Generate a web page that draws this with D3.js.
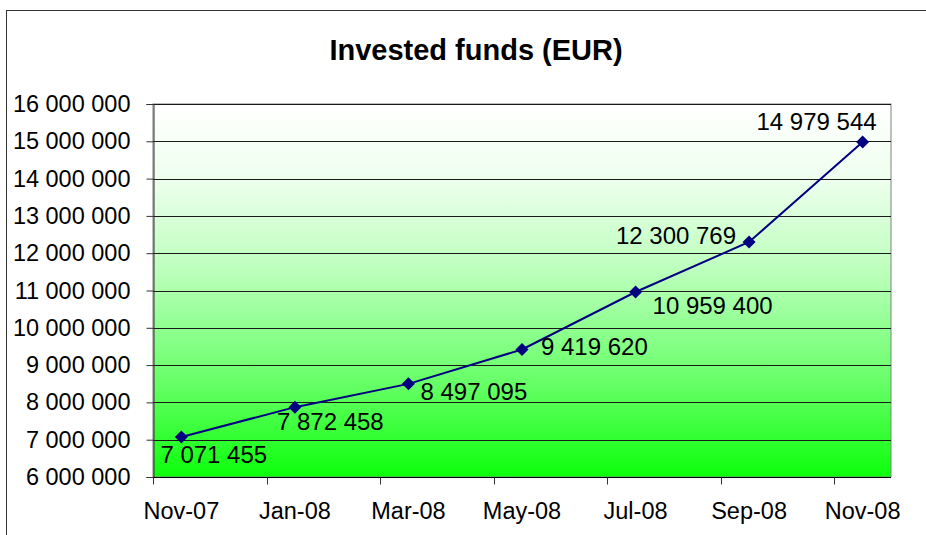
<!DOCTYPE html>
<html>
<head>
<meta charset="utf-8">
<script src="https://cdn.jsdelivr.net/npm/d3@7"></script>
<style>
  body { margin: 0; background: #fff; }
  text { font-family: "Liberation Sans", Arial, sans-serif; fill: #000; }
</style>
</head>
<body>
<div id="chart"></div>
<script>
// months on the date axis (Excel date axis, base unit = month)
const months = ["Nov-07", "Dec-07", "Jan-08", "Feb-08", "Mar-08", "Apr-08", "May-08",
                "Jun-08", "Jul-08", "Aug-08", "Sep-08", "Oct-08", "Nov-08"];
const categories = ["Nov-07", "Jan-08", "Mar-08", "May-08", "Jul-08", "Sep-08", "Nov-08"];
const invested = [7071455, 7872458, 8497095, 9419620, 10959400, 12300769, 14979544];
const yTicks = [6000000, 7000000, 8000000, 9000000, 10000000, 11000000, 12000000,
                13000000, 14000000, 15000000, 16000000];

const W = 926, H = 535;
const plot = { left: 153, right: 891, top: 104, bottom: 477 };

const locale = d3.formatLocale({ decimal: ".", thousands: " ", grouping: [3], currency: ["", ""] });
const fmt = locale.format(",d");

const svg = d3.select("#chart").append("svg")
    .attr("width", W)
    .attr("height", H);

// gradient for plot area: white at top, bright green at bottom
const grad = svg.append("defs").append("linearGradient")
    .attr("id", "bg")
    .attr("x1", 0).attr("y1", 0).attr("x2", 0).attr("y2", 1);
[[0, "#ffffff"], [0.2, "#eeffee"], [0.45, "#bbffbb"], [0.75, "#66ff66"], [1, "#0cff0c"]]
  .forEach(s => grad.append("stop").attr("offset", s[0]).attr("stop-color", s[1]));

// chart border (runs off right and bottom edges)
svg.append("rect")
    .attr("x", 6.5).attr("y", 10.5)
    .attr("width", W + 20).attr("height", H + 20)
    .attr("fill", "none")
    .attr("stroke", "#333")
    .attr("stroke-width", 1);

let x = d3.scaleBand()
    .domain(months)
    .range([plot.left, plot.right])
    .padding(0);

let y = d3.scaleLinear()
    .domain([6000000, 16000000])
    .range([plot.bottom, plot.top]);

svg.append("rect")
    .attr("x", plot.left).attr("y", plot.top)
    .attr("width", plot.right - plot.left)
    .attr("height", plot.bottom - plot.top)
    .attr("fill", "url(#bg)")
    .attr("stroke", "#808080");

// gridlines
svg.append("g")
  .selectAll("line")
  .data(yTicks)
  .join("line")
    .attr("x1", plot.left).attr("x2", plot.right)
    .attr("y1", d => Math.round(y(d)) + 0.5)
    .attr("y2", d => Math.round(y(d)) + 0.5)
    .attr("stroke", "#1a1a1a")
    .attr("stroke-width", 1);

// y axis
let yAxis = svg.append("g")
    .attr("transform", `translate(${plot.left + 0.5},0)`)
    .call(d3.axisLeft(y).tickValues(yTicks).tickFormat(fmt).tickSize(7).tickPadding(16));
yAxis.select(".domain").attr("stroke", "#333");
yAxis.selectAll(".tick line").attr("stroke", "#333");
yAxis.selectAll("text")
    .attr("font-size", 23.5)
    .attr("font-family", "'Liberation Sans', Arial, sans-serif")
    .attr("fill", "#000");

// x axis: ticks at start of every other month, labels centred in month band
let xAxis = svg.append("g")
    .attr("transform", `translate(0,${plot.bottom + 0.5})`);
xAxis.append("line")
    .attr("x1", plot.left).attr("x2", plot.right)
    .attr("stroke", "#000");
xAxis.selectAll("line.tick")
  .data(categories)
  .join("line")
    .attr("class", "tick")
    .attr("x1", d => Math.round(x(d)) + 0.5)
    .attr("x2", d => Math.round(x(d)) + 0.5)
    .attr("y1", 0).attr("y2", 7)
    .attr("stroke", "#333");
xAxis.selectAll("text")
  .data(categories)
  .join("text")
    .attr("x", d => x(d) + x.bandwidth() / 2)
    .attr("y", 41)
    .attr("text-anchor", "middle")
    .attr("font-size", 23.5)
    .text(d => d);

// title
svg.append("text")
    .attr("x", 476)
    .attr("y", 60)
    .attr("text-anchor", "middle")
    .attr("font-size", 29)
    .attr("font-weight", "bold")
    .text("Invested funds (EUR)");

let pts = categories.map((c, i) => ({ cat: c, value: invested[i] }));
let px = d => x(d.cat) + x.bandwidth() / 2;

svg.append("path")
    .datum(pts)
    .attr("fill", "none")
    .attr("stroke", "#000080")
    .attr("stroke-width", 2)
    .attr("d", d3.line().x(px).y(d => y(d.value)));

svg.append("g")
  .selectAll("path")
  .data(pts)
  .join("path")
    .attr("transform", d => `translate(${px(d)},${y(d.value)})`)
    .attr("d", "M0,-6.5L6.5,0L0,6.5L-6.5,0Z")
    .attr("fill", "#000080");

// data labels, placed like the original (left edge / anchor offsets from point)
const labelOffsets = [
  [-21, 26, "start"], [-18, 23, "start"], [12, 16, "start"], [19, 6, "start"],
  [17, 22, "start"], [-13, 2, "end"], [14, -12, "end"]
];
svg.append("g")
  .selectAll("text")
  .data(pts)
  .join("text")
    .attr("x", (d, i) => px(d) + labelOffsets[i][0])
    .attr("y", (d, i) => y(d.value) + labelOffsets[i][1])
    .attr("text-anchor", (d, i) => labelOffsets[i][2])
    .attr("font-size", 24)
    .text(d => fmt(d.value));
</script>
</body>
</html>
